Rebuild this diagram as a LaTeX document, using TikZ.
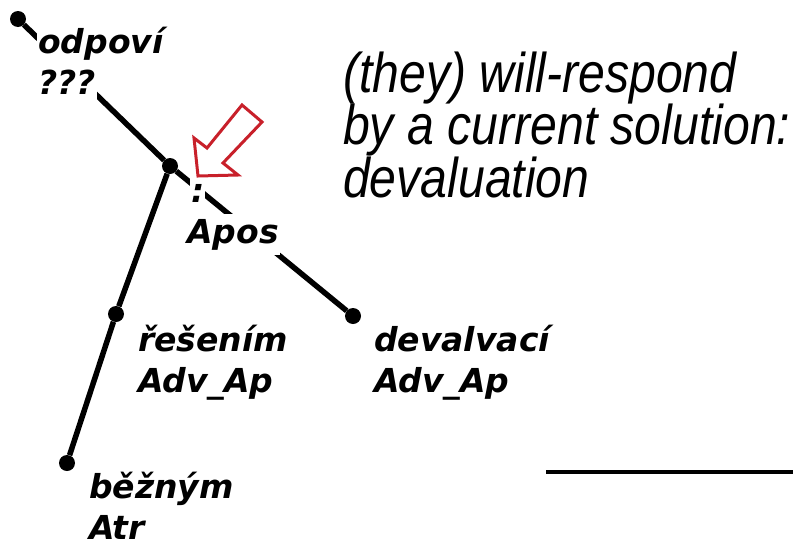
\documentclass[tikz,border=0pt]{standalone}
\usepackage{fontspec}
\usetikzlibrary{positioning}
\newfontfamily\treefont{DejaVu Sans}
\newfontfamily\glossfont[FakeStretch=0.86]{Liberation Sans}
\definecolor{pointred}{RGB}{200,32,42}

\begin{document}
\begin{tikzpicture}
    [x=1pt,y=1pt,
    dot/.style={circle,fill,inner sep=0pt,minimum size=16pt},
    edge/.style={line width=5.5pt},
    lbl/.style={fill=white,inner xsep=1pt,inner ysep=0pt,text height=29pt,text depth=12pt,
        font=\treefont\bfseries\itshape\fontsize{33}{42}\selectfont}]
    \useasboundingbox (0,0) rectangle (793,-544);
    % tree nodes
    \node[dot] (odp) at (18,-19) {};
    \node[dot] (colon) at (170,-166) {};
    \node[dot] (res) at (116,-314) {};
    \node[dot] (dev) at (353,-316) {};
    \node[dot] (bez) at (67,-463) {};
    % edges
    \draw[edge] (odp) -- (colon);
    \draw[edge] (colon) -- (dev);
    \draw[edge] (colon) -- (res);
    \draw[edge] (res) -- (bez);
    % labels, one line each
    \node[lbl,anchor=base west] (odp1) at ([shift={(19,-34)}]odp.center) {odpoví};
    \node[lbl,anchor=north west] (odp2) at (odp1.south west) {???};
    \node[lbl,anchor=base west] (colon1) at ([shift={(20,-36)}]colon.center) {:};
    \node[lbl,anchor=north west] (colon2) at ([xshift=-4pt]colon1.south west) {Apos};
    \node[lbl,anchor=base west] (res1) at ([shift={(21,-37)}]res.center) {řešením};
    \node[lbl,anchor=north west] (res2) at (res1.south west) {Adv\_Ap};
    \node[lbl,anchor=base west] (dev1) at ([shift={(20,-35)}]dev.center) {devalvací};
    \node[lbl,anchor=north west] (dev2) at (dev1.south west) {Adv\_Ap};
    \node[lbl,anchor=base west] (bez1) at ([shift={(21,-35)}]bez.center) {běžným};
    \node[lbl,anchor=north west] (bez2) at (bez1.south west) {Atr};
    % pointer
    \draw[pointred,line width=3pt,line join=miter]
        (242,-105) -- (262,-122) -- (223,-163) -- (238,-175) -- (198,-176) -- (194,-138) -- (207,-148) -- cycle;
    % gloss
    \node[anchor=base west,align=left,inner sep=0pt,
        font=\glossfont\itshape\fontsize{56}{52.5}\selectfont] (gloss) at (343,-197)
        {(they) will-respond\\by a current solution:\\devaluation};
    \coordinate (rulel) at (546,-472);
    \coordinate (ruler) at (793,-472);
    \draw[line width=4.5pt] (rulel) -- (ruler);
\end{tikzpicture}
\end{document}
